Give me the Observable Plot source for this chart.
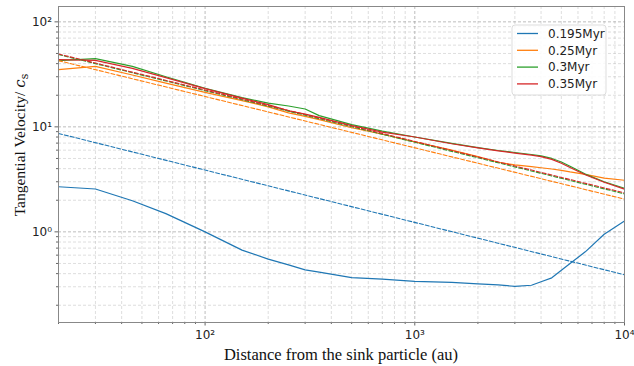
<!DOCTYPE html>
<html><head><meta charset="utf-8">
<script src="https://cdn.jsdelivr.net/npm/d3@7"></script>
<script src="https://cdn.jsdelivr.net/npm/@observablehq/plot@0.6"></script>
<style>body{margin:0;background:#fff}</style>
</head><body><div id="chart"></div>
<script>
// ---- data ----
const series = ["0.195Myr", "0.25Myr", "0.3Myr", "0.35Myr"];
const colors = ["#1f77b4", "#ff7f0e", "#2ca02c", "#d62728"];
const radius = [20,30,45,65,100,150,200,250,300,350,500,700,1000,1500,2000,2500,3000,3600,4000,4500,5000,5500,6500,8000,10000];
const v0195 = [2.69,2.56,1.98,1.49,1.0,0.67,0.55,0.484,0.435,0.413,0.366,0.355,0.338,0.33,0.32,0.312,0.303,0.31,0.335,0.365,0.43,0.50,0.645,0.95,1.27];
const v025  = [35.1,37.6,31.2,26.1,21.3,17.8,15.5,13.6,12.6,11.7,9.8,8.5,7.2,6.0,5.2,4.6,4.35,4.18,4.08,3.97,3.85,3.72,3.53,3.25,3.1];
const v03   = [42.7,44.6,37.7,30.0,23.3,19.0,16.8,15.8,14.8,12.8,10.5,9.1,8.0,6.95,6.35,5.95,5.7,5.45,5.3,5.0,4.62,4.22,3.55,3.0,2.6];
const v035  = [43.7,43.0,36.0,29.4,23.1,18.8,16.3,14.2,13.2,12.3,10.3,8.9,8.0,6.9,6.3,5.9,5.62,5.38,5.2,4.9,4.5,4.1,3.5,2.97,2.55];
// Keplerian reference lines (dashed)
const kepR    = [20, 10000];
const kep0195 = [8.65, 0.39];
const kep025  = [42.7, 2.05];
const kep03   = [48.8, 2.3];
const kep035  = [49.4, 2.35];
// axes
const xDomain = [20, 10000];
const yDomain = [0.137, 140];
const xMajor = [100, 1000, 10000];
const xMajorLabels = ["10\u00B2", "10\u00B3", "10\u2074"];
const yMajor = [1, 10, 100];
const yMajorLabels = ["10\u2070", "10\u00B9", "10\u00B2"];
const xTitle = "Distance from the sink particle (au)";
const yTitle = "Tangential Velocity/ ";

// ---- build tables ----
const solidVals = [v0195, v025, v03, v035];
const kepVals = [kep0195, kep025, kep03, kep035];
const solid = series.flatMap((s, i) => radius.map((r, j) => ({r, v: solidVals[i][j], s})));
const dashed = series.flatMap((s, i) => kepR.map((r, j) => ({r, v: kepVals[i][j], s})));

const xMinor = d3.scaleLog().domain(xDomain).ticks().filter(d => !xMajor.includes(d));
const yMinor = d3.scaleLog().domain(yDomain).ticks().filter(d => !yMajor.includes(d));

const chart = Plot.plot({
  width: 634, height: 366,
  marginLeft: 58, marginRight: 10, marginTop: 6, marginBottom: 44,
  style: {fontFamily: "DejaVu Sans", fontSize: "12px", background: "#fff"},
  x: {type: "log", domain: xDomain, axis: null},
  y: {type: "log", domain: yDomain, axis: null},
  color: {domain: series, range: colors},
  marks: [
    Plot.gridX(xMinor, {stroke: "#bbb", strokeOpacity: 0.7, strokeDasharray: "3,2", strokeWidth: 0.7}),
    Plot.gridY(yMinor, {stroke: "#bbb", strokeOpacity: 0.7, strokeDasharray: "3,2", strokeWidth: 0.7}),
    Plot.gridX(xMajor, {stroke: "#999", strokeOpacity: 0.8, strokeDasharray: "3,2", strokeWidth: 0.8}),
    Plot.gridY(yMajor, {stroke: "#999", strokeOpacity: 0.8, strokeDasharray: "3,2", strokeWidth: 0.8}),
    Plot.axisX(xMinor, {tickSize: 2, text: null, label: null, stroke: "#666"}),
    Plot.axisY(yMinor, {tickSize: 2, text: null, label: null, stroke: "#666"}),
    Plot.axisX(xMajor, {tickSize: 3.5, tickPadding: 4, stroke: "#666", fill: "#222", label: null,
      tickFormat: d => xMajorLabels[xMajor.indexOf(d)]}),
    Plot.axisY(yMajor, {tickSize: 3.5, tickPadding: 3, stroke: "#666", fill: "#222", label: null,
      tickFormat: d => yMajorLabels[yMajor.indexOf(d)]}),
    Plot.line(solid, {x: "r", y: "v", z: "s", stroke: "s", strokeWidth: 1.2}),
    Plot.line(dashed, {x: "r", y: "v", z: "s", stroke: "s", strokeWidth: 1.1, strokeDasharray: "4,2"}),
    Plot.frame({stroke: "#888", strokeWidth: 1})
  ]
});
document.getElementById("chart").appendChild(chart);

// ---- axis titles and legend ----
const svg = d3.select(chart);
svg.append("text")
  .attr("x", (58 + 624) / 2).attr("y", 360)
  .attr("text-anchor", "middle")
  .style("font-family", "Liberation Serif").style("font-size", "16.5px").attr("fill", "#111")
  .text(xTitle);
const yl = svg.append("text")
  .attr("transform", "translate(25,145) rotate(-90)")
  .attr("text-anchor", "middle")
  .style("font-family", "Liberation Serif").style("font-size", "15.5px").attr("fill", "#111");
yl.append("tspan").text(yTitle);
yl.append("tspan").text("c").style("font-style", "italic").style("font-family", "DejaVu Serif").style("font-size", "15px");
yl.append("tspan").text("s").attr("dy", 3).style("font-size", "11px").style("font-family", "DejaVu Serif");

const lg = svg.append("g").attr("transform", "translate(512,25)");
lg.append("rect").attr("width", 94).attr("height", 70).attr("rx", 3)
  .attr("fill", "#fff").attr("fill-opacity", 0.85).attr("stroke", "#ddd");
series.forEach((s, i) => {
  const y = 8.5 + i * 16.8;
  lg.append("line").attr("x1", 5).attr("x2", 26).attr("y1", y).attr("y2", y)
    .attr("stroke", colors[i]).attr("stroke-width", 1.3);
  lg.append("text").attr("x", 36).attr("y", y).attr("dy", "0.35em").attr("text-anchor", "start")
    .style("font-family", "DejaVu Sans").style("font-size", "12px").attr("fill", "#222").text(s);
});
</script>
</body></html>
